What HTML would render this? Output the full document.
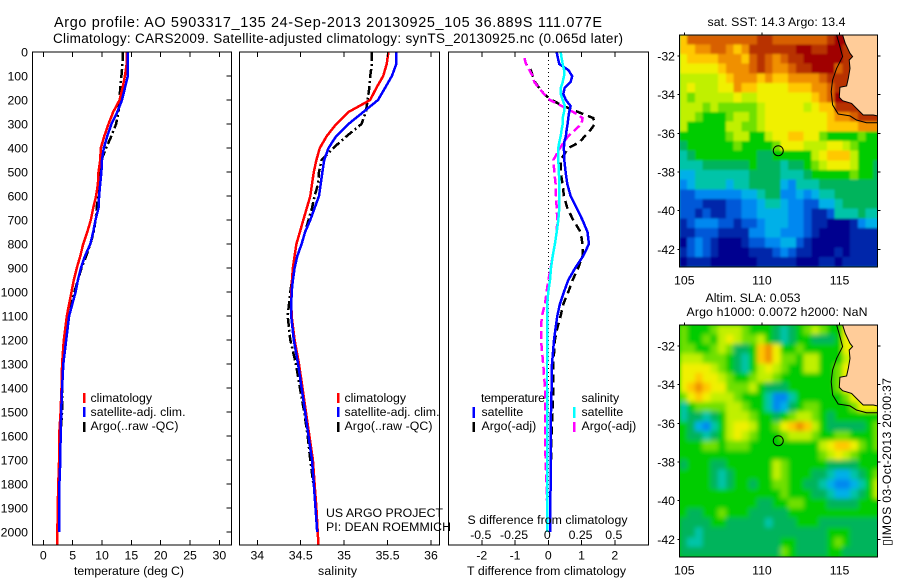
<!DOCTYPE html>
<html>
<head>
<meta charset="utf-8">
<title>Argo profile chart</title>
<style>
html,body{margin:0;padding:0;background:#fff;}
svg{display:block;font-family:"Liberation Sans",sans-serif;font-size:12.3px;fill:#000;}
text{fill:#000;}
</style>
</head>
<body>
<svg id="chart" width="900" height="580" viewBox="0 0 900 580" xmlns="http://www.w3.org/2000/svg">
  <defs>
    <filter id="sst-soften" x="-5%" y="-5%" width="110%" height="110%"><feGaussianBlur stdDeviation="1"></feGaussianBlur></filter>
    <filter id="sla-soften" x="-5%" y="-5%" width="110%" height="110%"><feGaussianBlur stdDeviation="2.4"></feGaussianBlur></filter>
    <clipPath id="sst-clip"><rect x="679.5" y="35" width="198" height="232"></rect></clipPath>
    <clipPath id="sla-clip"><rect x="679.5" y="325" width="198" height="232"></rect></clipPath>
  </defs>
  <rect x="0" y="0" width="900" height="580" fill="#fff"></rect>
  <text x="54" y="27" font-size="14.4" textLength="548" lengthAdjust="spacing">Argo profile: AO 5903317_135 24-Sep-2013 20130925_105 36.889S 111.077E</text>
  <text x="53" y="43" font-size="13.5" textLength="570" lengthAdjust="spacing">Climatology: CARS2009. Satellite-adjusted climatology: synTS_20130925.nc (0.065d later)</text>

  <g id="map-sst"></g>
  <g id="map-sla"></g>
  <g id="panel-temperature"></g>
  <g id="panel-salinity"></g>
  <g id="panel-difference"></g>
  <g id="panel-ticks"></g>

  <text x="74" y="575" textLength="110" lengthAdjust="spacing">temperature (deg C)</text>
  <text x="318" y="575" textLength="39" lengthAdjust="spacing">salinity</text>
  <text x="467" y="575" textLength="159" lengthAdjust="spacing">T difference from climatology</text>
  <text x="467.5" y="524" textLength="160" lengthAdjust="spacing">S difference from climatology</text>

  <g>
    <rect x="83" y="393" width="2.5" height="10" fill="#ff0000"></rect>
    <rect x="83" y="407" width="2.5" height="10" fill="#0000ff"></rect>
    <rect x="83" y="422" width="2.5" height="10" fill="#000"></rect>
    <text x="90.5" y="402">climatology</text>
    <text x="90.5" y="416" textLength="95" lengthAdjust="spacing">satellite-adj. clim.</text>
    <text x="90.5" y="430" textLength="88" lengthAdjust="spacing">Argo(..raw -QC)</text>
  </g>
  <g>
    <rect x="337" y="393" width="2.5" height="10" fill="#ff0000"></rect>
    <rect x="337" y="407" width="2.5" height="10" fill="#0000ff"></rect>
    <rect x="337" y="422" width="2.5" height="10" fill="#000"></rect>
    <text x="344.5" y="402">climatology</text>
    <text x="344.5" y="416" textLength="95" lengthAdjust="spacing">satellite-adj. clim.</text>
    <text x="344.5" y="430" textLength="88" lengthAdjust="spacing">Argo(..raw -QC)</text>
  </g>
  <g>
    <text x="481" y="402" textLength="64" lengthAdjust="spacing">temperature</text>
    <rect x="472.5" y="407" width="2.5" height="11" fill="#0000ff"></rect>
    <rect x="472.5" y="422" width="2.5" height="10" fill="#000"></rect>
    <text x="481.5" y="416">satellite</text>
    <text x="481.5" y="430">Argo(-adj)</text>
    <text x="581.5" y="402">salinity</text>
    <rect x="573" y="407" width="2.5" height="11" fill="#00ffff"></rect>
    <rect x="573" y="422" width="2.5" height="10" fill="#ff00ff"></rect>
    <text x="581.5" y="416">satellite</text>
    <text x="581.5" y="430">Argo(-adj)</text>
  </g>

  <text x="326" y="517" textLength="117" lengthAdjust="spacing">US ARGO PROJECT</text>
  <text x="326" y="531" textLength="125" lengthAdjust="spacing">PI: DEAN ROEMMICH</text>

  <text x="707.5" y="26" textLength="138" lengthAdjust="spacing">sat. SST: 14.3 Argo: 13.4</text>
  <text x="705.5" y="302" textLength="95" lengthAdjust="spacing">Altim. SLA: 0.053</text>
  <text x="686.5" y="316" textLength="181" lengthAdjust="spacing">Argo h1000: 0.0072 h2000: NaN</text>
  <text transform="translate(891,546) rotate(-90)" textLength="168" lengthAdjust="spacing">▯IMOS 03-Oct-2013 20:00:37</text>
</svg>

<script>
// ---------- Profile data ----------
const depthLevels = [0,50,100,150,200,250,300,350,400,450,500,550,600,650,700,750,800,850,900,950,1000,1100,1200,1300,1400,1500,1600,1700,1800,1900,2000,2054];
const tempClimatology = [14.2,14.2,13.9,13.5,13.0,11.9,11.1,10.4,9.8,9.7,9.4,9.3,9.0,8.5,8.1,7.5,6.8,6.3,5.7,5.2,4.8,4.0,3.5,3.2,3.1,2.95,2.7,2.7,2.55,2.45,2.4,2.4];
const tempSatellite = [14.4,14.4,14.4,13.9,13.4,12.6,11.6,10.9,10.3,10.0,9.9,9.7,9.5,9.4,8.9,8.5,8.0,7.1,6.4,5.9,5.5,4.4,3.9,3.4,3.2,3.05,2.95,2.9,2.75,2.75,2.7,null];
const tempArgo = [13.5,13.5,13.3,13.1,13.0,12.8,12.4,11.6,10.7,9.9,9.8,9.5,9.3,9.1,8.9,8.6,8.0,7.3,6.5,5.9,5.3,4.25,3.8,3.4,3.2,3.2,2.9,2.8,2.65,null,null,null];
const salClimatology = [35.51,35.49,35.45,35.37,35.30,35.05,34.91,34.80,34.72,34.68,34.65,34.63,34.61,34.57,34.53,34.49,34.45,34.43,34.41,34.40,34.39,34.395,34.43,34.48,34.52,34.56,34.60,34.64,34.66,34.68,34.695,34.705];
const salSatellite = [35.60,35.60,35.55,35.47,35.39,35.22,35.05,34.91,34.82,34.77,34.75,34.73,34.71,34.66,34.61,34.55,34.51,34.46,34.43,34.41,34.395,34.39,34.42,34.47,34.51,34.55,34.59,34.63,34.65,34.67,34.69,null];
const salArgo = [35.32,35.32,35.30,35.29,35.27,35.25,35.20,35.03,34.875,34.74,34.71,34.70,34.66,34.63,34.59,34.55,34.51,34.46,34.43,34.40,34.38,34.35,34.38,34.445,34.49,34.54,34.58,34.61,34.645,null,null,null];

const diffDepths = [0,25,50,75,100,125,150,175,200,225,250,275,300,325,350,375,400,450,500,550,600,650,700,750,800,850,900,950,1000,1050,1100,1150,1200,1300,1400,1500,1600,1700,1800,1900,2000];
const tDiffSatellite = [0.25,0.29,0.33,0.6,0.72,0.67,0.49,0.45,0.53,0.67,0.63,0.6,0.58,0.55,0.53,0.48,0.47,0.48,0.52,0.57,0.67,0.85,1.03,1.18,1.22,1.05,0.81,0.6,0.47,0.35,0.27,0.22,0.17,0.11,0.1,0.08,0.07,0.07,0.07,0.06,0.06];
const tDiffArgo = [null,-0.72,-0.67,-0.53,-0.47,-0.4,-0.27,-0.13,0.1,0.45,0.9,1.35,1.4,1.27,1.1,0.95,0.6,0.37,0.37,0.43,0.47,0.57,0.75,0.97,1.03,1.03,0.9,0.73,0.6,0.45,0.37,0.27,0.2,0.15,0.15,0.13,0.1,0.08,0.07,null,null];
const sDiffSatellite = [0.093,0.1,0.108,0.118,0.118,0.108,0.093,0.093,0.108,0.125,0.118,0.108,0.108,0.1,0.093,0.083,0.075,0.075,0.08,0.083,0.083,0.083,0.075,0.063,0.05,0.033,0.02,0.013,0,-0.008,-0.008,-0.008,-0.008,-0.01,-0.01,-0.008,-0.008,-0.008,-0.008,-0.008,-0.008];
const sDiffArgo = [null,-0.18,-0.168,-0.143,-0.118,-0.105,-0.07,-0.033,0.013,0.1,0.188,0.258,0.25,0.2,0.15,0.118,0.088,0.038,0.045,0.055,0.058,0.063,0.068,0.063,0.05,0.033,0.018,0,-0.013,-0.025,-0.048,-0.055,-0.055,-0.038,-0.025,-0.025,-0.025,-0.02,-0.013,-0.008,null];

// ---------- Tick labels ----------
const depthTicks = [0,100,200,300,400,500,600,700,800,900,1000,1100,1200,1300,1400,1500,1600,1700,1800,1900,2000];
const temperatureTicks = [0,5,10,15,20,25,30];
const salinityTicks = [34,34.5,35,35.5,36];
const tDiffTicks = [-2,-1,0,1,2];
const sDiffTicks = [-0.5,-0.25,0,0.25,0.5];
const lonTicks = [105,110,115];
const latTicks = [-32,-34,-36,-38,-40,-42];

// ---------- Map data: colour level per 0.5 degree cell, north to south, west to east ----------
const sstLevels = [
[11,13,13,13,13,13,13,13,13,13,14,14,13,13,13,13,13,13,13,14,15,15,14,14,14,14],
[11,11,12,12,13,13,12,11,12,14,14,14,14,14,14,15,15,14,14,15,15,14,14,14,14,14],
[10,11,11,11,11,12,12,12,11,13,14,13,12,13,14,14,15,15,15,15,15,14,14,14,14,14],
[10,10,10,10,10,11,12,12,12,13,14,13,12,12,13,14,14,15,15,15,13,14,14,14,14,14],
[9,9,9,9,9,10,11,12,12,12,11,12,11,11,12,12,12,12,13,14,14,14,14,14,14,14],
[9,10,9,9,9,10,10,12,11,11,10,10,10,10,11,11,11,12,12,13,14,14,14,14,14,14],
[9,8,9,9,9,9,9,10,9,9,10,10,10,10,10,10,10,11,12,13,15,15,14,14,14,14],
[9,9,9,8,9,8,8,8,8,8,9,10,10,10,10,10,9,10,11,11,14,14,14,14,14,14],
[9,9,8,7,7,7,8,9,9,8,9,10,10,10,10,10,10,10,10,11,12,12,13,14,14,14],
[9,7,7,7,7,7,9,9,8,8,9,10,10,10,10,10,10,10,10,11,11,11,11,12,12,12],
[7,7,7,7,7,7,8,9,9,7,7,9,10,10,11,11,10,10,8,7,7,7,7,8,7,7],
[6,7,7,7,7,7,7,8,7,7,7,7,8,10,10,10,9,9,9,10,10,9,8,7,7,7],
[5,6,7,7,7,7,7,7,7,7,6,6,7,7,7,7,7,9,10,11,11,11,9,7,7,7],
[5,5,5,6,6,6,6,6,6,7,6,6,6,5,6,6,7,8,9,10,10,10,9,7,7,6],
[4,4,5,5,5,5,5,5,5,6,6,6,6,5,5,5,6,7,7,7,7,7,8,7,7,6],
[3,4,5,5,5,5,4,5,5,6,6,6,6,4,3,5,5,5,6,6,6,6,6,6,6,6],
[2,2,3,3,3,3,3,3,4,4,5,6,6,3,3,4,3,4,5,5,6,6,6,6,6,6],
[2,2,2,1,1,1,2,2,3,3,4,5,5,4,3,3,2,2,4,4,5,6,6,6,6,6],
[2,2,1,2,1,1,2,2,3,3,4,4,4,4,3,3,2,1,1,2,5,5,5,6,5,5],
[1,2,3,3,3,2,2,1,2,2,3,4,4,4,3,3,2,1,1,0,0,0,1,3,4,4],
[1,1,2,2,2,1,1,1,1,3,3,4,4,3,3,3,2,1,0,0,0,0,1,1,1,1],
[0,2,3,2,1,0,0,0,1,2,2,3,3,4,4,2,1,0,0,0,0,0,1,1,1,1],
[1,2,3,2,1,0,0,0,0,1,1,1,2,3,2,1,1,0,0,0,1,0,1,1,1,1],
[0,1,1,1,0,0,0,0,0,0,1,1,1,1,1,0,0,0,1,1,0,1,1,1,1,1]
];
const slaLevels = [
[8,7,7,7,8,9,9,9,8,7,7,7,6,5,6,7,8,9,8,7,7,10,10,10,10,10],
[8,7,7,8,7,9,10,9,8,8,9,7,6,5,6,7,7,6,6,6,7,10,10,10,10,10],
[8,8,7,7,8,9,8,6,6,7,11,12,10,7,7,8,7,7,7,7,7,10,10,10,10,10],
[9,9,9,8,8,8,7,6,5,7,11,12,10,8,8,7,9,9,7,7,7,9,10,10,10,10],
[10,10,10,10,9,8,7,6,5,7,9,10,9,8,7,7,9,9,7,7,8,10,10,10,10,10],
[10,10,11,10,10,9,8,7,7,8,9,9,8,7,7,7,7,7,7,7,8,10,10,10,10,10],
[10,11,12,11,10,10,8,8,8,9,7,6,6,6,7,7,7,7,7,7,8,10,10,10,10,10],
[8,10,11,10,9,9,9,8,7,7,7,5,3,3,5,7,7,7,7,7,7,8,10,10,10,10],
[5,7,8,8,8,8,9,9,8,7,7,5,3,4,6,7,8,8,7,7,7,7,8,10,10,10],
[5,6,6,5,6,7,9,9,9,8,7,7,6,7,8,9,9,8,7,6,7,7,7,7,7,7],
[7,6,4,3,5,7,9,10,10,9,7,7,8,10,11,12,11,9,7,6,6,6,6,6,7,8],
[7,6,6,5,6,7,9,10,9,8,7,7,7,8,9,9,9,8,7,7,8,8,7,7,7,8],
[7,7,7,8,8,7,8,8,8,7,7,7,7,7,7,7,7,7,9,10,11,11,10,8,7,8],
[7,7,7,7,7,7,7,7,7,7,7,7,7,7,7,7,7,7,8,9,10,9,8,7,7,7],
[6,7,7,7,6,6,7,7,7,7,7,7,9,8,7,7,7,7,7,6,6,6,6,7,7,7],
[7,7,7,7,6,5,6,7,7,7,7,7,9,8,7,7,7,6,6,5,4,4,5,6,7,8],
[7,7,7,7,6,5,6,7,7,6,7,7,8,8,7,7,6,6,5,4,3,3,4,5,7,9],
[7,7,7,7,7,7,7,7,7,7,7,7,7,8,7,7,7,6,6,5,4,4,5,6,7,9],
[7,7,7,7,7,7,7,7,7,7,6,6,7,7,8,8,7,7,7,6,6,6,6,7,7,7],
[7,6,6,7,7,8,7,7,7,6,6,6,6,6,7,7,7,7,7,7,7,7,7,7,7,7],
[6,6,6,6,7,7,6,6,6,6,6,5,6,6,6,7,7,7,6,6,6,6,6,6,6,6],
[6,6,5,6,6,6,6,6,6,6,6,6,6,6,6,6,6,6,6,7,7,7,6,6,6,6],
[6,5,5,6,6,6,6,6,6,6,6,6,6,7,7,6,6,6,6,7,8,7,6,6,6,6],
[6,6,6,6,6,6,6,6,6,6,6,6,6,8,7,6,6,6,6,7,7,6,6,6,6,6]
];
const coastLons = [115.19,115.36,115.67,115.84,115.62,115.67,115.56,115.45,115.02,114.98,115.19,115.77,116.09,116.52,117.17,117.43];
const coastLats = [-30.91,-31.34,-31.86,-32.03,-32.21,-32.64,-33.16,-33.55,-33.62,-34.14,-34.31,-34.45,-34.71,-35.05,-35.05,-35.1];
const shelfLons = [114.81,114.96,115.19,114.81,114.55,114.46,114.55,114.91,115.67,116.09,116.73,117.43];
const shelfLats = [-30.91,-31.34,-32.03,-32.64,-33.24,-33.84,-34.53,-35.0,-35.1,-35.31,-35.45,-35.45];
const profileLon = 111.05;
const profileLat = -36.9;

// ---------- Axis functions ----------
const NS = 'http://www.w3.org/2000/svg';
const PLOT_TOP = 52, PLOT_BOTTOM = 545;
const panelT = {left:32.5, right:231.5};
const panelS = {left:239.5, right:439.5};
const panelD = {left:448.5, right:648.5};
function yDepth(d){ return 52 + 0.24 * d; }
function xTemp(t){ return 43.3 + 5.87 * t; }
function xSal(s){ return 257.3 + 86.85 * (s - 34); }
function xTDiff(v){ return 548.3 + 33.25 * v; }
function xSDiff(v){ return 548.3 + 133 * v; }
function lonX(lon){ return 684.3 + 15.53 * (lon - 105); }
function latY(lat, top){ return top + 21 + 19.33 * (-32 - lat); }
const levelColours = ['#00008f','#0028aa','#0058d8','#0088f0','#00b0e8','#00c4a8','#00b45c','#00cc00','#70e000','#c0f000','#f0f000','#ffc800','#f09000','#d86000','#b83000','#a00000','#ffcc99'];
function levelColour(v){
  return levelColours[Math.max(0, Math.min(levelColours.length - 1, Math.round(v)))];
}
function make(tag, attrs, parent){
  const node = document.createElementNS(NS, tag);
  for (const k in attrs) node.setAttribute(k, attrs[k]);
  parent.appendChild(node);
  return node;
}
function drawSeries(parent, name, depths, values, xFn, colour, dash, width){
  let run = [];
  const flush = function(){
    if (run.length > 1) {
      const line = make('polyline', {points: run.join(' '), fill: 'none', stroke: colour, 'stroke-width': width, 'stroke-dasharray': dash || 'none', 'shape-rendering': 'crispEdges'}, parent);
      
      
    }
    run = [];
  };
  values.forEach(function(v, i){
    if (v === null) { flush(); return; }
    run.push(xFn(v).toFixed(1) + ',' + yDepth(depths[i]).toFixed(1));
  });
  flush();
}
function drawFrame(parent, panel, name){
  const frame = make('rect', {x: panel.left, y: PLOT_TOP, width: panel.right - panel.left, height: PLOT_BOTTOM - PLOT_TOP, fill: 'none', stroke: '#000', 'stroke-width': 1, 'shape-rendering': 'crispEdges'}, parent);
  
  
}
function drawTick(parent, x1, y1, x2, y2){
  const tick = make('line', {x1: x1, y1: y1, x2: x2, y2: y2, stroke: '#000', 'stroke-width': 1, 'shape-rendering': 'crispEdges'}, parent);
  
  
}
function drawLabel(parent, name, x, y, anchor, content){
  const label = make('text', {x: x, y: y, 'text-anchor': anchor}, parent);
  label.textContent = content;
  
  
}

// ---------- Profile panels ----------
const gT = document.getElementById('panel-temperature');
const gS = document.getElementById('panel-salinity');
const gD = document.getElementById('panel-difference');
const gTicks = document.getElementById('panel-ticks');
const ARGO_DASH = '9 3 2 3';

drawSeries(gT, 'argo-temperature-line', depthLevels, tempArgo, xTemp, '#000', ARGO_DASH, 2.5);
drawSeries(gT, 'climatology-temperature-line', depthLevels, tempClimatology, xTemp, '#ff0000', '', 2.5);
drawSeries(gT, 'satellite-temperature-line', depthLevels, tempSatellite, xTemp, '#0000ff', '', 2.5);
drawFrame(gT, panelT, 'temperature-plot-frame');

drawSeries(gS, 'argo-salinity-line', depthLevels, salArgo, xSal, '#000', ARGO_DASH, 2.5);
drawSeries(gS, 'climatology-salinity-line', depthLevels, salClimatology, xSal, '#ff0000', '', 2.5);
drawSeries(gS, 'satellite-salinity-line', depthLevels, salSatellite, xSal, '#0000ff', '', 2.5);
drawFrame(gS, panelS, 'salinity-plot-frame');

const zeroLine = make('line', {x1: xTDiff(0), y1: PLOT_TOP, x2: xTDiff(0), y2: 500, stroke: '#000', 'stroke-width': 1, 'stroke-dasharray': '1 3', 'shape-rendering': 'crispEdges'}, gD);


drawSeries(gD, 't-difference-argo-line', diffDepths, tDiffArgo, xTDiff, '#000', '8 5', 2.5);
drawSeries(gD, 's-difference-argo-line', diffDepths, sDiffArgo, xSDiff, '#ff00ff', '8 4', 2.5);
drawSeries(gD, 't-difference-satellite-line', diffDepths, tDiffSatellite, xTDiff, '#0000ff', '', 2.5);
drawSeries(gD, 's-difference-satellite-line', diffDepths, sDiffSatellite, xSDiff, '#00ffff', '', 2.5);
drawFrame(gD, panelD, 'difference-plot-frame');

depthTicks.forEach(function(d){
  drawTick(gTicks, panelT.right - 5, yDepth(d), panelT.right, yDepth(d));
  drawLabel(gTicks, 'depth-tick-label', 28, yDepth(d) + 4.5, 'end', String(d));
});
temperatureTicks.forEach(function(t){
  drawTick(gTicks, xTemp(t), PLOT_TOP, xTemp(t), PLOT_TOP + 5);
  drawTick(gTicks, xTemp(t), PLOT_BOTTOM - 5, xTemp(t), PLOT_BOTTOM);
  drawLabel(gTicks, 'temperature-tick-label', xTemp(t), 559.5, 'middle', String(t));
});
salinityTicks.forEach(function(s){
  drawTick(gTicks, xSal(s), PLOT_TOP, xSal(s), PLOT_TOP + 5);
  drawTick(gTicks, xSal(s), PLOT_BOTTOM - 5, xSal(s), PLOT_BOTTOM);
  drawLabel(gTicks, 'salinity-tick-label', xSal(s), 559.5, 'middle', String(s));
});
tDiffTicks.forEach(function(v){
  drawTick(gTicks, xTDiff(v), PLOT_TOP, xTDiff(v), PLOT_TOP + 5);
  drawTick(gTicks, xTDiff(v), PLOT_BOTTOM - 5, xTDiff(v), PLOT_BOTTOM);
  drawLabel(gTicks, 't-difference-tick-label', xTDiff(v), 559.5, 'middle', String(v));
});
sDiffTicks.forEach(function(v){
  drawLabel(gTicks, 's-difference-tick-label', xTDiff(v * 4) - 1, 539, 'middle', String(v));
});

// ---------- Maps ----------
function drawMap(parent, levels, top, prefix, baseLevel){
  const left = 679.5, right = 877.5, bottom = top + 232;
  const clipped = make('g', {'clip-path': 'url(#' + prefix + '-clip)'}, parent);
  
  
  const base = make('rect', {x: left, y: top, width: right - left, height: 232, fill: levelColour(baseLevel)}, clipped);
  
  
  const soft = make('g', {filter: 'url(#' + prefix + '-soften)'}, clipped);
  
  
  levels.forEach(function(row, j){
    row.forEach(function(level, i){
      const x0 = lonX(104.68 + i * 0.5);
      const x1 = lonX(104.68 + (i + 1) * 0.5);
      const y0 = latY(-30.9 - j * 0.5, top);
      const y1 = latY(-30.9 - (j + 1) * 0.5, top);
      const cell = make('rect', {x: x0.toFixed(2), y: y0.toFixed(2), width: (x1 - x0 + 0.4).toFixed(2), height: (y1 - y0 + 0.4).toFixed(2), fill: levelColour(level), 'shape-rendering': 'crispEdges'}, soft);
      
      
    });
  });
  const coastPoints = coastLons.map(function(lon, i){ return lonX(lon).toFixed(1) + ',' + latY(coastLats[i], top).toFixed(1); });
  const land = make('polygon', {points: coastPoints.join(' ') + ' ' + right + ',' + top, fill: levelColours[16], stroke: 'none'}, parent);
  
  
  const coast = make('polyline', {points: coastPoints.join(' '), fill: 'none', stroke: '#000', 'stroke-width': 1}, parent);
  
  
  const shelfPoints = shelfLons.map(function(lon, i){ return lonX(lon).toFixed(1) + ',' + latY(shelfLats[i], top).toFixed(1); });
  const shelf = make('polyline', {points: shelfPoints.join(' '), fill: 'none', stroke: '#000', 'stroke-width': 1}, parent);
  
  
  const marker = make('circle', {cx: lonX(profileLon), cy: latY(profileLat, top), r: 5, fill: 'none', stroke: '#000', 'stroke-width': 1}, parent);
  
  
  const frame = make('rect', {x: left, y: top, width: right - left, height: 232, fill: 'none', stroke: '#000', 'stroke-width': 1, 'shape-rendering': 'crispEdges'}, parent);
  
  
  lonTicks.forEach(function(lon){
    drawTick(parent, lonX(lon), top - 2.5, lonX(lon), top);
    drawLabel(parent, prefix + '-longitude-tick-label', lonX(lon), top + 249.5, 'middle', String(lon));
  });
  latTicks.forEach(function(lat){
    const y = latY(lat, top);
    drawTick(parent, left - 2, y, left, y);
    drawTick(parent, right, y, right + 3, y);
    drawLabel(parent, prefix + '-latitude-tick-label', 675, y + 4.5, 'end', String(lat));
  });
}
drawMap(document.getElementById('map-sst'), sstLevels, 35, 'sst', 5);
drawMap(document.getElementById('map-sla'), slaLevels, 325, 'sla', 7);
</script>
</body>
</html>
